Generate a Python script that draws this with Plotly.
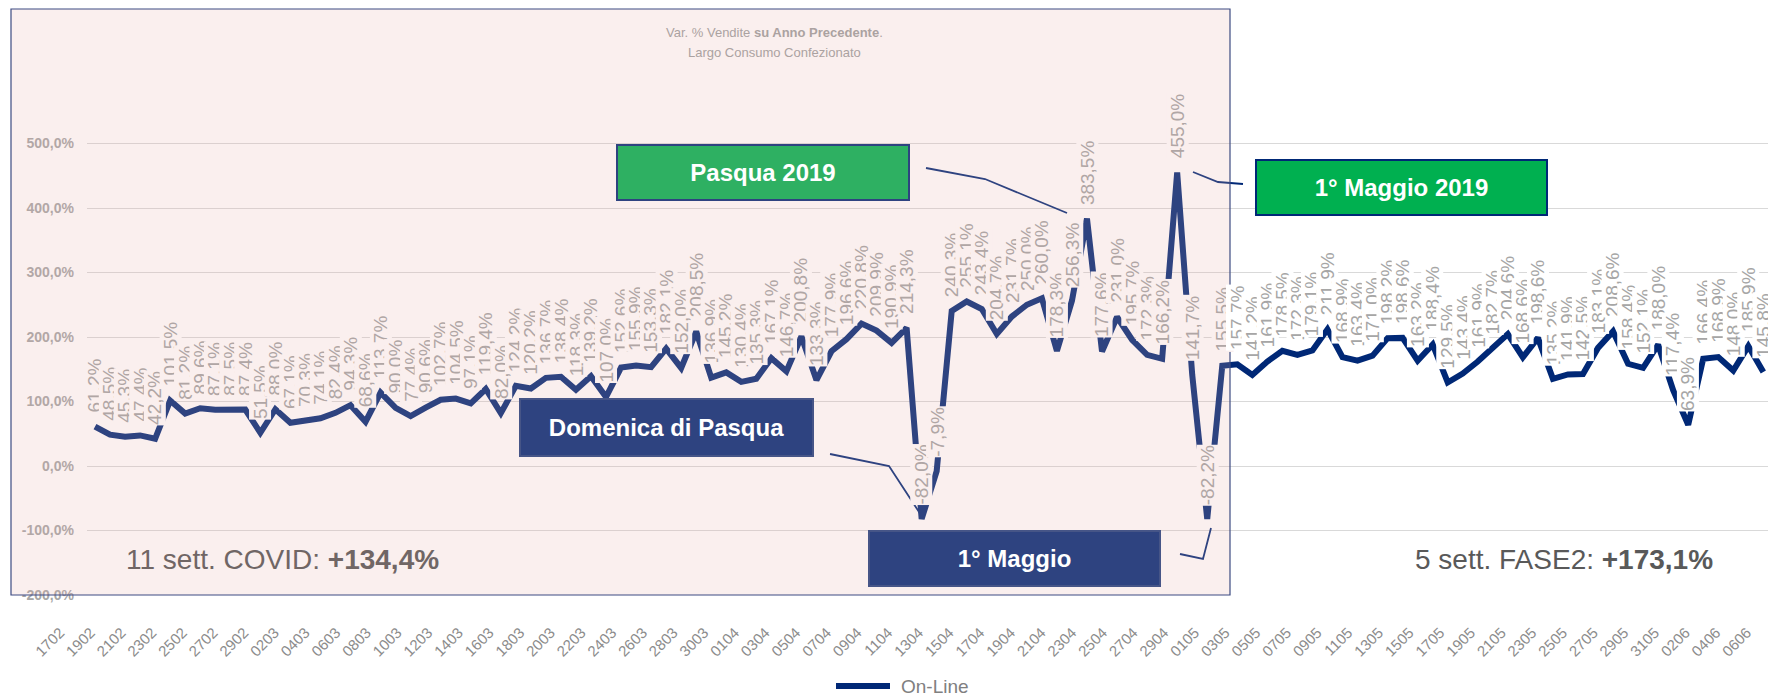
import pandas as pd
import plotly.graph_objects as go

# ---------------- data ----------------
dates = pd.date_range("2020-02-17", "2020-06-07").strftime("%d%m").tolist()

feb_values = [61.2, 48.5, 45.3, 47.4, 42.2, 101.5, 81.2, 89.6, 87.1, 87.5, 87.4, 51.5, 88.0]
mar_values = [67.1, 70.3, 74.1, 82.4, 94.3, 68.6, 113.7, 90.0, 77.4, 90.6, 102.7, 104.5, 97.1,
              119.4, 82.0, 124.2, 120.2, 136.7, 138.4, 118.3, 139.2, 107.0, 152.6, 155.9, 153.3,
              182.1, 152.0, 208.5, 136.9, 145.2, 130.4]
apr_values = [135.3, 167.1, 146.7, 200.8, 133.3, 177.9, 196.6, 220.8, 209.9, 190.9, 214.3, -82.0,
              -7.9, 240.3, 255.1, 243.4, 204.7, 231.7, 250.0, 260.0, 178.3, 256.3, 383.5, 177.6,
              231.0, 195.7, 172.3, 166.2, 455.0, 141.7]
may_values = [-82.2, 155.5, 157.7, 141.2, 161.9, 178.5, 172.3, 179.1, 211.9, 168.9, 163.4, 171.0,
              198.2, 198.6, 163.2, 188.4, 129.5, 143.4, 161.9, 182.7, 204.6, 168.6, 198.6, 135.2,
              141.9, 142.5, 183.1, 208.6, 158.4, 152.1, 188.0]
jun_values = [117.4, 63.9, 166.4, 168.9, 148.0, 185.9, 145.8]

values = feb_values + mar_values + apr_values + may_values + jun_values

y_tickvals = [-200, -100, 0, 100, 200, 300, 400, 500]
y_ticktext = ["-200,0%", "-100,0%", "0,0%", "100,0%", "200,0%", "300,0%", "400,0%", "500,0%"]

series_name = "On-Line"
title_line1 = "Var. % Vendite <b>su Anno Precedente</b>."
title_line2 = "Largo Consumo Confezionato"
covid_text = "11 sett. COVID: <b>+134,4%</b>"
fase2_text = "5 sett. FASE2: <b>+173,1%</b>"

# ---------------- layout geometry ----------------
WIDTH, HEIGHT = 1768, 696
MT, MB = 79, 101
PH = HEIGHT - MT - MB
BOTTOM = HEIGHT - MB
PLOT_LEFT = 87


def xp(px):
    return px / WIDTH


def yp(py):
    return (BOTTOM - py) / PH


FONT = "Liberation Sans, Arial, sans-serif"
NAVY = "rgb(0,40,118)"
NAVY_T = "rgb(46,67,128)"      # navy seen through the pink veil
GREEN = "rgb(0,176,80)"
GREEN_T = "rgb(46,176,98)"
PINK_BG = "rgb(250,239,238)"
LABEL_GRAY = "#A6A6A6"
LABEL_GRAY_T = "#B0A6A5"
RECT_RIGHT_PX = 1230

n = len(values)
xs = list(range(n))

fig = go.Figure()
fig.add_trace(go.Scatter(
    x=xs, y=values, mode="lines", name=series_name,
    line=dict(color=NAVY, width=6),
    hoverinfo="skip", showlegend=False,
))
# helper (empty) trace carrying the date tick axis
fig.add_trace(go.Scatter(x=[], y=[], xaxis="x2", yaxis="y2", mode="lines",
                         showlegend=False, hoverinfo="skip"))

annotations = []

# data labels
for i, v in enumerate(values):
    px = 95 + 15.03 * i
    inside = px < RECT_RIGHT_PX
    txt = f"{v:.1f}%".replace(".", ",")
    annotations.append(dict(
        x=i, y=v, xref="x", yref="y", text=txt, showarrow=False,
        textangle=-90, xanchor="center", yanchor="bottom", yshift=13,
        bgcolor=PINK_BG if inside else "white", borderpad=0,
        font=dict(family=FONT, size=19, color=LABEL_GRAY_T if inside else LABEL_GRAY),
    ))

# title
for txt, py in [(title_line1, 32), (title_line2, 53)]:
    annotations.append(dict(
        x=xp(774), y=yp(py), xref="paper", yref="paper", showarrow=False,
        text=txt, font=dict(family=FONT, size=13, color="#ABA2A1"),
        xanchor="center", yanchor="middle",
    ))


def box(text, x0, y0, x1, y1, fill, border, size=24):
    return dict(
        x=xp((x0 + x1) / 2), y=yp((y0 + y1) / 2), xref="paper", yref="paper",
        showarrow=False, text=f"<b>{text}</b>",
        width=x1 - x0 - 4, height=y1 - y0 - 4,
        bgcolor=fill, bordercolor=border, borderwidth=2, borderpad=0,
        font=dict(family=FONT, size=size, color="white"),
        xanchor="center", yanchor="middle", align="center", valign="middle",
    )


annotations.append(box("Pasqua 2019", 616, 144, 910, 201, GREEN_T, NAVY_T))
annotations.append(box("1° Maggio 2019", 1255, 159, 1548, 216, GREEN, NAVY))
annotations.append(box("Domenica di Pasqua", 519, 398, 814, 457, NAVY_T, "rgb(70,85,135)"))
annotations.append(box("1° Maggio", 868, 530, 1161, 587, NAVY_T, "rgb(70,85,135)"))

annotations.append(dict(
    x=xp(124), y=yp(559), xref="paper", yref="paper", showarrow=False,
    text=covid_text, xanchor="left", yanchor="middle",
    font=dict(family=FONT, size=28, color="rgb(112,102,101)"),
))
annotations.append(dict(
    x=xp(1413), y=yp(559), xref="paper", yref="paper", showarrow=False,
    text=fase2_text, xanchor="left", yanchor="middle",
    font=dict(family=FONT, size=28, color="#595959"),
))

# legend text
annotations.append(dict(
    x=xp(899), y=yp(686), xref="paper", yref="paper", showarrow=False,
    text=series_name, xanchor="left", yanchor="middle",
    font=dict(family=FONT, size=19, color="#808080"),
))


def path(points):
    return "M " + " L ".join(f"{xp(a):.5f},{yp(b):.5f}" for a, b in points)


shapes = [
    dict(type="path", xref="paper", yref="paper", layer="above",
         path=path([(926, 168), (985, 179), (1067, 213)]),
         line=dict(color=NAVY, width=1.8)),
    dict(type="path", xref="paper", yref="paper", layer="above",
         path=path([(1193, 172), (1218, 182), (1243, 184)]),
         line=dict(color=NAVY, width=1.8)),
    dict(type="path", xref="paper", yref="paper", layer="above",
         path=path([(830, 454), (889, 466), (921, 515)]),
         line=dict(color=NAVY, width=1.8)),
    dict(type="path", xref="paper", yref="paper", layer="above",
         path=path([(1180, 554), (1203, 559), (1211, 528)]),
         line=dict(color=NAVY, width=1.8)),
    # legend sample line
    dict(type="line", xref="paper", yref="paper", layer="above",
         x0=xp(836), x1=xp(890), y0=yp(686), y1=yp(686),
         line=dict(color=NAVY, width=6)),
    # pink veil over the COVID period
    dict(type="rect", xref="paper", yref="paper", layer="above",
         x0=xp(11), x1=xp(RECT_RIGHT_PX), y0=yp(595), y1=yp(9),
         fillcolor="rgba(230,175,170,0.2)",
         line=dict(color="rgb(60,75,130)", width=1.2)),
]

fig.update_layout(
    width=WIDTH, height=HEIGHT,
    margin=dict(l=0, r=0, t=MT, b=MB, pad=0),
    paper_bgcolor="white", plot_bgcolor="rgba(0,0,0,0)",
    font=dict(family=FONT),
    showlegend=False,
    xaxis=dict(
        domain=[PLOT_LEFT / WIDTH, 1],
        range=[-0.532, 111.31],
        showticklabels=False,
        showgrid=False, zeroline=False, showline=False, ticks="",
    ),
    xaxis2=dict(
        domain=[0, 1], anchor="y2",
        range=[-3.913, 111.38],
        tickmode="array", tickvals=xs[::2], ticktext=dates[::2],
        tickangle=-45, tickfont=dict(family=FONT, size=15, color="#8C8C8C"),
        showgrid=False, zeroline=False, showline=False, ticks="",
        ticklabelstandoff=25,
    ),
    yaxis=dict(
        anchor="x",
        range=[-200, 600],
        tickmode="array", tickvals=y_tickvals,
        ticktext=[f"<b>{t}</b>" for t in y_ticktext],
        tickfont=dict(family=FONT, size=14, color="#A6A6A6"),
        showgrid=True, gridcolor="#D9D9D9", gridwidth=1.3,
        zeroline=False, showline=False, ticks="",
        ticklabelstandoff=12,
    ),
    yaxis2=dict(
        anchor="x2", domain=[0, 1], range=[-200, 600],
        showgrid=False, showticklabels=False, zeroline=False, showline=False, ticks="",
    ),
    annotations=annotations,
    shapes=shapes,
)

fig.write_html("out.html", config={"displayModeBar": False},
               post_script="document.body.style.margin='0px';")
